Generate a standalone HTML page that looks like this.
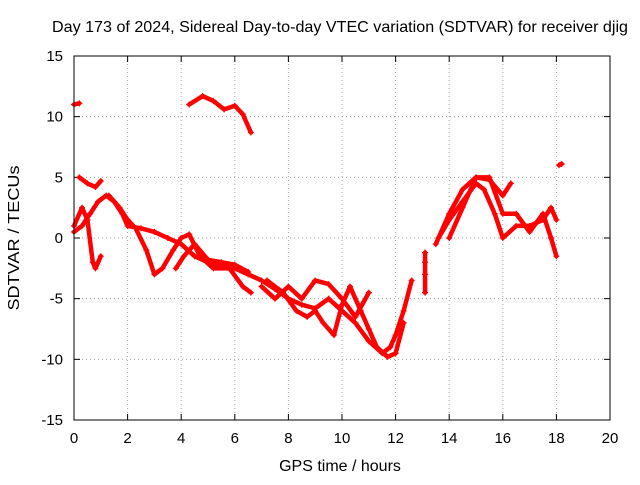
<!DOCTYPE html>
<html><head><meta charset="utf-8"><style>
body{margin:0;background:#fff;}
svg text{font-family:"Liberation Sans",sans-serif;font-size:15px;fill:#000;}
svg text.big{font-size:16px;}
</style></head><body>
<svg id="chart" width="640" height="480" xmlns="http://www.w3.org/2000/svg">
<text class="big" x="340" y="32" text-anchor="middle" textLength="576" lengthAdjust="spacingAndGlyphs">Day 173 of 2024, Sidereal Day-to-day VTEC variation (SDTVAR) for receiver djig</text>
<g id="grid"></g>
<g id="ticks"></g>
<g id="series"></g>
<rect x="74" y="56" width="536" height="364" fill="none" stroke="#000" stroke-width="1"/>
<text class="big" x="340" y="471" text-anchor="middle">GPS time / hours</text>
<text class="big" transform="translate(19,238) rotate(-90)" text-anchor="middle" textLength="145" lengthAdjust="spacingAndGlyphs">SDTVAR / TECUs</text>
</svg>
<script>
const xTicks=[0,2,4,6,8,10,12,14,16,18,20];
const yTicks=[-15,-10,-5,0,5,10,15];
const trackA=[[0,11],[0.2,11.1]];
const trackB=[[4.3,11],[4.8,11.7],[5.2,11.3],[5.6,10.6],[6,10.9],[6.3,10.2],[6.6,8.7]];
const trackC=[[0,0.5],[0.3,1],[0.6,2],[0.9,3],[1.2,3.5],[1.5,3],[1.8,2],[2,1],[2.5,0.8],[3,0.5],[3.5,0],[4,-0.5],[4.5,-1.5],[5,-2],[5.5,-2.3],[6,-2.5],[6.5,-3],[7,-3.5],[7.5,-4.2],[8,-5],[8.5,-5.5],[9,-5.8],[9.5,-5],[10,-6],[10.5,-7],[11,-8.5],[11.5,-9.5],[11.8,-9],[12,-8],[12.3,-6],[12.6,-3.5]];
const trackD=[[0.2,5],[0.5,4.5],[0.8,4.2],[1,4.7]];
const trackE=[[0,1],[0.3,2.5],[0.5,1.5],[0.7,-2],[0.8,-2.5],[1,-1.5]];
const trackF=[[1.3,3.5],[1.7,2.5],[2,1.5],[2.3,0.8],[2.7,-1],[3,-3],[3.3,-2.5],[3.7,-1],[4,0],[4.3,0.3],[4.7,-1.5],[5.2,-2.5],[5.8,-2.5],[6.3,-4],[6.6,-4.5]];
const trackG=[[3.8,-2.5],[4.1,-1.5],[4.5,-0.5],[5,-1.8],[5.5,-2],[6,-2.2],[6.5,-2.8]];
const trackH=[[7,-4],[7.5,-5],[8,-4],[8.5,-5],[9,-3.5],[9.5,-3.8],[10,-5],[10.5,-6.5],[11,-4.5]];
const trackI=[[7.2,-3.5],[7.8,-4.5],[8.3,-6],[8.7,-6.5],[9,-6],[9.3,-7],[9.7,-8],[10,-5.5],[10.3,-4],[10.7,-6],[11,-7.5],[11.3,-9],[11.7,-9.8],[12,-9.5],[12.3,-7]];
const trackJ=[[13.1,-1.2],[13.1,-2],[13.1,-3],[13.1,-4.5]];
const trackK=[[13.5,-0.5],[14,2],[14.5,4],[15,5],[15.5,4.8],[16,3.5],[16.3,4.5]];
const trackL=[[13.6,0],[14,1.5],[14.5,3],[15,4.5],[15.3,4],[15.7,2],[16,0],[16.5,1],[17,1],[17.5,1.5],[17.8,2.5],[18,1.5]];
const trackM=[[14,0],[14.5,2.5],[15,5],[15.5,5],[16,2],[16.5,2],[17,0.5],[17.5,2],[17.8,0],[18,-1.5]];
const trackN=[[18.1,6],[18.2,6.1]];
const tracks=[trackA,trackB,trackC,trackD,trackE,trackF,trackG,trackH,trackI,trackJ,trackK,trackL,trackM,trackN];
const NS="http://www.w3.org/2000/svg";
const X0=74,X1=610,Y0=420,Y1=56;
const sx=v=>X0+(v-0)/(20-0)*(X1-X0);
const sy=v=>Y0-(v+15)/30*(Y0-Y1);
function mk(t,a){const e=document.createElementNS(NS,t);for(const k in a)e.setAttribute(k,a[k]);return e;}
const grid=document.getElementById('grid'),ticks=document.getElementById('ticks'),series=document.getElementById('series');
xTicks.forEach(v=>{const x=sx(v);
 if(v>0&&v<20){const l=mk('line',{x1:x,x2:x,y1:Y1,y2:Y0,stroke:'#a0a0a0','stroke-dasharray':'1,3'});grid.appendChild(l);}
 ticks.appendChild(mk('line',{x1:x,x2:x,y1:Y0,y2:Y0-6,stroke:'#000'}));ticks.appendChild(mk('line',{x1:x,x2:x,y1:Y1,y2:Y1+6,stroke:'#000'}));
 const t=mk('text',{x:x,y:443,'text-anchor':'middle'});t.textContent=v;ticks.appendChild(t);});
yTicks.forEach(v=>{const y=sy(v);
 if(v>-15&&v<15){const l=mk('line',{x1:X0,x2:X1,y1:y,y2:y,stroke:'#a0a0a0','stroke-dasharray':'1,3'});grid.appendChild(l);}
 ticks.appendChild(mk('line',{x1:X0,x2:X0+6,y1:y,y2:y,stroke:'#000'}));ticks.appendChild(mk('line',{x1:X1,x2:X1-6,y1:y,y2:y,stroke:'#000'}));
 const t=mk('text',{x:63,y:y+5,'text-anchor':'end'});t.textContent=v;ticks.appendChild(t);});
tracks.forEach(tr=>{
 const p=mk('polyline',{points:tr.map(d=>sx(d[0])+','+sy(d[1])).join(' '),fill:'none',stroke:'#f00','stroke-width':4.5,'stroke-linejoin':'round','stroke-linecap':'round'});
 
 
 series.appendChild(p);
 tr.forEach(d=>{const x=sx(d[0]),y=sy(d[1]);
  const m=mk('path',{d:`M${x-3},${y}h6M${x},${y-3}v6`,stroke:'#f00','stroke-width':1.2});
  
  
  series.appendChild(m);});
});
</script>
</body></html>
